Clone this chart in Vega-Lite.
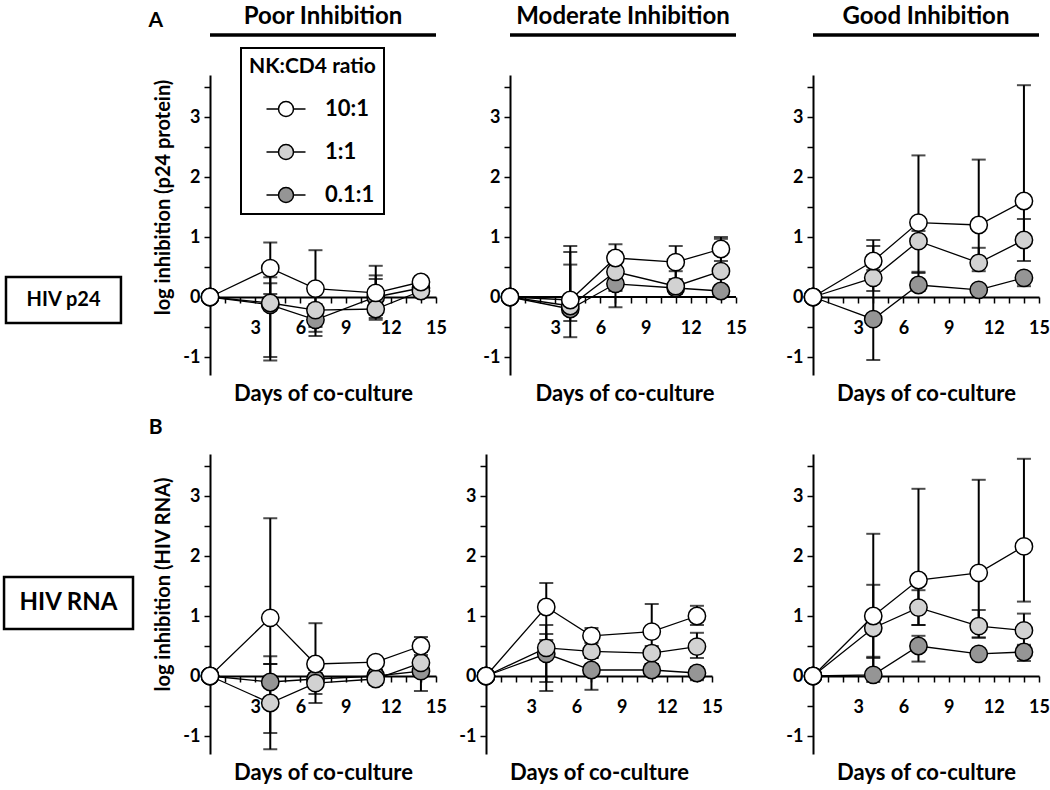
{
  "$schema": "https://vega.github.io/schema/vega-lite/v6.json",
  "background": "white",
  "padding": {"left": 2, "top": 5, "right": 5, "bottom": 5},
  "config": {
    "font": "Lato",
    "view": {"stroke": null},
    "axis": {"domainColor": "black", "domainWidth": 2, "tickColor": "black", "tickWidth": 1.5, "tickSize": 6, "labelFont": "Lato", "labelFontSize": 18, "labelFontWeight": "bold", "labelColor": "black", "titleFont": "Lato", "titleFontSize": 22, "titleFontWeight": "bold", "titleColor": "black", "grid": false, "labelPadding": 4},
    "legend": {"strokeWidth": 2}
  },
  "datasets": {
    "d": [
      {"r":"p24","c":"Poor","g":"0.1:1","day":0,"y":0,"lo":0,"hi":0},
      {"r":"p24","c":"Poor","g":"0.1:1","day":4,"y":-0.13,"lo":-1.06,"hi":0.23},
      {"r":"p24","c":"Poor","g":"0.1:1","day":7,"y":-0.38,"lo":-0.65,"hi":-0.12},
      {"r":"p24","c":"Poor","g":"0.1:1","day":11,"y":0.0,"lo":-0.3,"hi":0.3},
      {"r":"p24","c":"Poor","g":"0.1:1","day":14,"y":0.15,"lo":0.1,"hi":0.2},
      {"r":"p24","c":"Poor","g":"1:1","day":0,"y":0,"lo":0,"hi":0},
      {"r":"p24","c":"Poor","g":"1:1","day":4,"y":-0.1,"lo":-1.0,"hi":0.33},
      {"r":"p24","c":"Poor","g":"1:1","day":7,"y":-0.22,"lo":-0.58,"hi":0.1},
      {"r":"p24","c":"Poor","g":"1:1","day":11,"y":-0.2,"lo":-0.35,"hi":0.36},
      {"r":"p24","c":"Poor","g":"1:1","day":14,"y":0.1,"lo":0.05,"hi":0.15},
      {"r":"p24","c":"Poor","g":"10:1","day":0,"y":0,"lo":0,"hi":0},
      {"r":"p24","c":"Poor","g":"10:1","day":4,"y":0.48,"lo":0.05,"hi":0.91},
      {"r":"p24","c":"Poor","g":"10:1","day":7,"y":0.14,"lo":-0.5,"hi":0.78},
      {"r":"p24","c":"Poor","g":"10:1","day":11,"y":0.07,"lo":-0.38,"hi":0.52},
      {"r":"p24","c":"Poor","g":"10:1","day":14,"y":0.25,"lo":0.15,"hi":0.3},

      {"r":"p24","c":"Moderate","g":"0.1:1","day":0,"y":0,"lo":0,"hi":0},
      {"r":"p24","c":"Moderate","g":"0.1:1","day":4,"y":-0.2,"lo":-0.2,"hi":0.54},
      {"r":"p24","c":"Moderate","g":"0.1:1","day":7,"y":0.22,"lo":0.1,"hi":0.35},
      {"r":"p24","c":"Moderate","g":"0.1:1","day":11,"y":0.15,"lo":0.1,"hi":0.2},
      {"r":"p24","c":"Moderate","g":"0.1:1","day":14,"y":0.1,"lo":0.05,"hi":0.15},
      {"r":"p24","c":"Moderate","g":"1:1","day":0,"y":0,"lo":0,"hi":0},
      {"r":"p24","c":"Moderate","g":"1:1","day":4,"y":-0.15,"lo":-0.67,"hi":0.75},
      {"r":"p24","c":"Moderate","g":"1:1","day":7,"y":0.42,"lo":-0.17,"hi":0.75},
      {"r":"p24","c":"Moderate","g":"1:1","day":11,"y":0.18,"lo":0.05,"hi":0.43},
      {"r":"p24","c":"Moderate","g":"1:1","day":14,"y":0.43,"lo":0.1,"hi":0.97},
      {"r":"p24","c":"Moderate","g":"10:1","day":0,"y":0,"lo":0,"hi":0},
      {"r":"p24","c":"Moderate","g":"10:1","day":4,"y":-0.05,"lo":-0.4,"hi":0.85},
      {"r":"p24","c":"Moderate","g":"10:1","day":7,"y":0.65,"lo":0.42,"hi":0.88},
      {"r":"p24","c":"Moderate","g":"10:1","day":11,"y":0.58,"lo":0.3,"hi":0.85},
      {"r":"p24","c":"Moderate","g":"10:1","day":14,"y":0.8,"lo":0.6,"hi":1.0},

      {"r":"p24","c":"Good","g":"0.1:1","day":0,"y":0,"lo":0,"hi":0},
      {"r":"p24","c":"Good","g":"0.1:1","day":4,"y":-0.37,"lo":-1.05,"hi":0.45},
      {"r":"p24","c":"Good","g":"0.1:1","day":7,"y":0.2,"lo":0.1,"hi":0.42},
      {"r":"p24","c":"Good","g":"0.1:1","day":11,"y":0.12,"lo":0.05,"hi":0.2},
      {"r":"p24","c":"Good","g":"0.1:1","day":14,"y":0.32,"lo":0.18,"hi":0.4},
      {"r":"p24","c":"Good","g":"1:1","day":0,"y":0,"lo":0,"hi":0},
      {"r":"p24","c":"Good","g":"1:1","day":4,"y":0.32,"lo":0.1,"hi":0.85},
      {"r":"p24","c":"Good","g":"1:1","day":7,"y":0.93,"lo":0.4,"hi":1.1},
      {"r":"p24","c":"Good","g":"1:1","day":11,"y":0.57,"lo":0.43,"hi":0.82},
      {"r":"p24","c":"Good","g":"1:1","day":14,"y":0.95,"lo":0.6,"hi":1.3},
      {"r":"p24","c":"Good","g":"10:1","day":0,"y":0,"lo":0,"hi":0},
      {"r":"p24","c":"Good","g":"10:1","day":4,"y":0.6,"lo":0.25,"hi":0.95},
      {"r":"p24","c":"Good","g":"10:1","day":7,"y":1.24,"lo":0.9,"hi":2.36},
      {"r":"p24","c":"Good","g":"10:1","day":11,"y":1.2,"lo":0.57,"hi":2.29},
      {"r":"p24","c":"Good","g":"10:1","day":14,"y":1.6,"lo":0.95,"hi":3.53},

      {"r":"RNA","c":"Poor","g":"0.1:1","day":0,"y":0,"lo":0,"hi":0},
      {"r":"RNA","c":"Poor","g":"0.1:1","day":4,"y":-0.1,"lo":-0.95,"hi":0.2},
      {"r":"RNA","c":"Poor","g":"0.1:1","day":7,"y":-0.05,"lo":-0.2,"hi":0.05},
      {"r":"RNA","c":"Poor","g":"0.1:1","day":11,"y":0.0,"lo":-0.1,"hi":0.1},
      {"r":"RNA","c":"Poor","g":"0.1:1","day":14,"y":0.08,"lo":-0.25,"hi":0.15},
      {"r":"RNA","c":"Poor","g":"1:1","day":0,"y":0,"lo":0,"hi":0},
      {"r":"RNA","c":"Poor","g":"1:1","day":4,"y":-0.45,"lo":-1.22,"hi":0.33},
      {"r":"RNA","c":"Poor","g":"1:1","day":7,"y":-0.12,"lo":-0.45,"hi":0.1},
      {"r":"RNA","c":"Poor","g":"1:1","day":11,"y":-0.05,"lo":-0.15,"hi":0.05},
      {"r":"RNA","c":"Poor","g":"1:1","day":14,"y":0.22,"lo":0.0,"hi":0.4},
      {"r":"RNA","c":"Poor","g":"10:1","day":0,"y":0,"lo":0,"hi":0},
      {"r":"RNA","c":"Poor","g":"10:1","day":4,"y":0.97,"lo":0.2,"hi":2.63},
      {"r":"RNA","c":"Poor","g":"10:1","day":7,"y":0.2,"lo":-0.3,"hi":0.88},
      {"r":"RNA","c":"Poor","g":"10:1","day":11,"y":0.23,"lo":0.1,"hi":0.3},
      {"r":"RNA","c":"Poor","g":"10:1","day":14,"y":0.5,"lo":0.35,"hi":0.65},

      {"r":"RNA","c":"Moderate","g":"0.1:1","day":0,"y":0,"lo":0,"hi":0},
      {"r":"RNA","c":"Moderate","g":"0.1:1","day":4,"y":0.37,"lo":-0.25,"hi":0.7},
      {"r":"RNA","c":"Moderate","g":"0.1:1","day":7,"y":0.1,"lo":-0.23,"hi":0.3},
      {"r":"RNA","c":"Moderate","g":"0.1:1","day":11,"y":0.1,"lo":0.0,"hi":0.2},
      {"r":"RNA","c":"Moderate","g":"0.1:1","day":14,"y":0.05,"lo":-0.07,"hi":0.15},
      {"r":"RNA","c":"Moderate","g":"1:1","day":0,"y":0,"lo":0,"hi":0},
      {"r":"RNA","c":"Moderate","g":"1:1","day":4,"y":0.47,"lo":-0.1,"hi":0.85},
      {"r":"RNA","c":"Moderate","g":"1:1","day":7,"y":0.41,"lo":0.3,"hi":0.55},
      {"r":"RNA","c":"Moderate","g":"1:1","day":11,"y":0.38,"lo":0.2,"hi":0.5},
      {"r":"RNA","c":"Moderate","g":"1:1","day":14,"y":0.49,"lo":0.3,"hi":0.72},
      {"r":"RNA","c":"Moderate","g":"10:1","day":0,"y":0,"lo":0,"hi":0},
      {"r":"RNA","c":"Moderate","g":"10:1","day":4,"y":1.15,"lo":0.6,"hi":1.55},
      {"r":"RNA","c":"Moderate","g":"10:1","day":7,"y":0.67,"lo":0.5,"hi":0.8},
      {"r":"RNA","c":"Moderate","g":"10:1","day":11,"y":0.74,"lo":0.3,"hi":1.2},
      {"r":"RNA","c":"Moderate","g":"10:1","day":14,"y":1.0,"lo":0.85,"hi":1.17},

      {"r":"RNA","c":"Good","g":"0.1:1","day":0,"y":0,"lo":0,"hi":0},
      {"r":"RNA","c":"Good","g":"0.1:1","day":4,"y":0.02,"lo":-0.1,"hi":0.32},
      {"r":"RNA","c":"Good","g":"0.1:1","day":7,"y":0.5,"lo":0.24,"hi":0.67},
      {"r":"RNA","c":"Good","g":"0.1:1","day":11,"y":0.37,"lo":0.3,"hi":0.45},
      {"r":"RNA","c":"Good","g":"0.1:1","day":14,"y":0.4,"lo":0.25,"hi":0.52},
      {"r":"RNA","c":"Good","g":"1:1","day":0,"y":0,"lo":0,"hi":0},
      {"r":"RNA","c":"Good","g":"1:1","day":4,"y":0.8,"lo":0.1,"hi":1.52},
      {"r":"RNA","c":"Good","g":"1:1","day":7,"y":1.14,"lo":0.85,"hi":1.43},
      {"r":"RNA","c":"Good","g":"1:1","day":11,"y":0.83,"lo":0.64,"hi":1.1},
      {"r":"RNA","c":"Good","g":"1:1","day":14,"y":0.76,"lo":0.5,"hi":1.04},
      {"r":"RNA","c":"Good","g":"10:1","day":0,"y":0,"lo":0,"hi":0},
      {"r":"RNA","c":"Good","g":"10:1","day":4,"y":1.0,"lo":0.3,"hi":2.37},
      {"r":"RNA","c":"Good","g":"10:1","day":7,"y":1.6,"lo":0.85,"hi":3.12},
      {"r":"RNA","c":"Good","g":"10:1","day":11,"y":1.72,"lo":0.64,"hi":3.27},
      {"r":"RNA","c":"Good","g":"10:1","day":14,"y":2.16,"lo":1.24,"hi":3.62}
    ]
  },
  "columns": 3,
  "bounds": "flush",
  "spacing": {"row": 79, "column": 50},
  "resolve": {"scale": {"fill": "independent"}, "legend": {"fill": "independent"}},
  "concat": [
    {
      "width": 226, "height": 300,
      "data": {"name": "d"},
      "transform": [{"filter": "datum.r === 'p24' && datum.c === 'Poor'"}],
      "encoding": {
        "x": {"field": "day", "type": "quantitative", "scale": {"domain": [0, 15], "nice": false}, "axis": {"title": "Days of co-culture", "values": [1,2,3,4,5,6,7,8,9,10,11,12,13,14,15], "labelExpr": "datum.value % 3 === 0 ? datum.label : ''", "offset": -78, "labelFlush": false, "labelPadding": 16, "titlePadding": 46}},
        "y": {"field": "y", "type": "quantitative", "scale": {"domain": [-1.3, 3.7], "nice": false, "zero": false}, "axis": {"title": "log inhibition (p24 protein)", "titleFontSize": 20, "titlePadding": 9, "titleY": 122, "values": [-1,-0.5,0,0.5,1,1.5,2,2.5,3,3.5], "labelExpr": "datum.value % 1 === 0 ? '' + datum.value : ''"}}
      },
      "layer": [
        {"transform": [{"filter": "datum.day > 0"}], "mark": {"type": "rule", "color": "black", "strokeWidth": 2}, "encoding": {"y": {"field": "lo", "type": "quantitative"}, "y2": {"field": "hi"}}},
        {"transform": [{"filter": "datum.day > 0"}], "mark": {"type": "tick", "orient": "horizontal", "color": "black", "size": 14, "thickness": 2}, "encoding": {"y": {"field": "lo", "type": "quantitative"}}},
        {"transform": [{"filter": "datum.day > 0"}], "mark": {"type": "tick", "orient": "horizontal", "color": "black", "size": 14, "thickness": 2}, "encoding": {"y": {"field": "hi", "type": "quantitative"}}},
        {"mark": {"type": "line", "color": "black", "strokeWidth": 1.3}, "encoding": {"detail": {"field": "g"}}},
        {"mark": {"type": "point", "shape": "circle", "filled": true, "size": 300, "stroke": "black", "strokeWidth": 1.5, "opacity": 1},
         "encoding": {"fill": {"field": "g", "type": "nominal", "scale": {"domain": ["10:1", "1:1", "0.1:1"], "range": ["#ffffff", "#d2d2d2", "#959595"]},
           "legend": {"orient": "none", "legendX": 31, "legendY": -27, "title": "NK:CD4 ratio", "titleFont": "Lato", "titleFontSize": 21, "titleFontWeight": "bold", "titleColor": "black", "titlePadding": 21, "labelFont": "Lato", "labelFontSize": 22, "labelFontWeight": "bold", "labelColor": "black", "labelOffset": 28, "strokeColor": "black", "padding": 8, "symbolType": "M -2.6 0 L -1 0 M 1 0 L 2.6 0 M 1 0 A 1 1 0 1 1 -1 0 A 1 1 0 1 1 1 0 Z", "symbolSize": 225, "symbolStrokeColor": "black", "symbolStrokeWidth": 1.5, "symbolOffset": 26, "rowPadding": 21}}}},
        {"transform": [{"filter": "datum.day === 0 && datum.g === '10:1'"}], "mark": {"type": "text", "font": "Lato", "fontSize": 24, "fontWeight": "bold", "color": "black", "align": "center", "baseline": "alphabetic"}, "encoding": {"x": {"datum": 7.5, "type": "quantitative"}, "y": {"datum": 4.55, "type": "quantitative"}, "text": {"value": "Poor Inhibition"}}},
        {"transform": [{"filter": "datum.day === 0 && datum.g === '10:1'"}], "mark": {"type": "rule", "color": "black", "strokeWidth": 3.5}, "encoding": {"x": {"datum": 0, "type": "quantitative"}, "x2": {"datum": 15}, "y": {"datum": 4.367, "type": "quantitative"}}},
        {"transform": [{"filter": "datum.day === 0 && datum.g === '10:1'"}], "mark": {"type": "text", "font": "Lato", "fontSize": 21, "fontWeight": "bold", "color": "black", "align": "center", "baseline": "alphabetic"}, "encoding": {"x": {"datum": -3.6, "type": "quantitative"}, "y": {"datum": 4.5, "type": "quantitative"}, "text": {"value": "A"}}},
        {"transform": [{"filter": "datum.day === 0 && datum.g === '10:1'"}], "mark": {"type": "rect", "fill": "white", "stroke": "black", "strokeWidth": 2.5}, "encoding": {"x": {"datum": -13.54, "type": "quantitative"}, "x2": {"datum": -5.91}, "y": {"datum": 0.333, "type": "quantitative"}, "y2": {"datum": -0.433}}},
        {"transform": [{"filter": "datum.day === 0 && datum.g === '10:1'"}], "mark": {"type": "text", "font": "Lato", "fontSize": 20, "fontWeight": "bold", "color": "black", "align": "center", "baseline": "middle"}, "encoding": {"x": {"datum": -9.72, "type": "quantitative"}, "y": {"datum": -0.05, "type": "quantitative"}, "text": {"value": "HIV p24"}}}
      ]
    },
    {
      "width": 277, "height": 300,
      "data": {"name": "d"},
      "transform": [{"filter": "datum.r === 'p24' && datum.c === 'Moderate'"}],
      "encoding": {
        "x": {"field": "day", "type": "quantitative", "scale": {"domain": [-1.593, 16.792], "nice": false, "zero": false}, "axis": {"title": "Days of co-culture", "domain": false, "values": [1,2,3,4,5,6,7,8,9,10,11,12,13,14,15], "labelExpr": "datum.value % 3 === 0 ? datum.label : ''", "offset": -78, "labelFlush": false, "labelPadding": 16, "titlePadding": 46}},
        "y": {"field": "y", "type": "quantitative", "scale": {"domain": [-1.3, 3.7], "nice": false, "zero": false}, "axis": {"title": null, "offset": -24, "values": [-1,-0.5,0,0.5,1,1.5,2,2.5,3,3.5], "labelExpr": "datum.value % 1 === 0 ? '' + datum.value : ''"}}
      },
      "layer": [
        {"transform": [{"filter": "datum.day === 0 && datum.g === '10:1'"}], "mark": {"type": "rule", "color": "black", "strokeWidth": 2}, "encoding": {"x": {"datum": 0, "type": "quantitative"}, "x2": {"datum": 15}, "y": {"datum": 0, "type": "quantitative"}}},
        {"transform": [{"filter": "datum.day > 0"}], "mark": {"type": "rule", "color": "black", "strokeWidth": 2}, "encoding": {"y": {"field": "lo", "type": "quantitative"}, "y2": {"field": "hi"}}},
        {"transform": [{"filter": "datum.day > 0"}], "mark": {"type": "tick", "orient": "horizontal", "color": "black", "size": 14, "thickness": 2}, "encoding": {"y": {"field": "lo", "type": "quantitative"}}},
        {"transform": [{"filter": "datum.day > 0"}], "mark": {"type": "tick", "orient": "horizontal", "color": "black", "size": 14, "thickness": 2}, "encoding": {"y": {"field": "hi", "type": "quantitative"}}},
        {"mark": {"type": "line", "color": "black", "strokeWidth": 1.3}, "encoding": {"detail": {"field": "g"}}},
        {"mark": {"type": "point", "shape": "circle", "filled": true, "size": 300, "stroke": "black", "strokeWidth": 1.5, "opacity": 1},
         "encoding": {"fill": {"field": "g", "type": "nominal", "scale": {"domain": ["10:1", "1:1", "0.1:1"], "range": ["#ffffff", "#d2d2d2", "#959595"]}, "legend": null}}},
        {"transform": [{"filter": "datum.day === 0 && datum.g === '10:1'"}], "mark": {"type": "text", "font": "Lato", "fontSize": 24, "fontWeight": "bold", "color": "black", "align": "center", "baseline": "alphabetic"}, "encoding": {"x": {"datum": 7.5, "type": "quantitative"}, "y": {"datum": 4.55, "type": "quantitative"}, "text": {"value": "Moderate Inhibition"}}},
        {"transform": [{"filter": "datum.day === 0 && datum.g === '10:1'"}], "mark": {"type": "rule", "color": "black", "strokeWidth": 3.5}, "encoding": {"x": {"datum": 0, "type": "quantitative"}, "x2": {"datum": 15}, "y": {"datum": 4.367, "type": "quantitative"}}}
      ]
    },
    {
      "width": 226, "height": 300,
      "data": {"name": "d"},
      "transform": [{"filter": "datum.r === 'p24' && datum.c === 'Good'"}],
      "encoding": {
        "x": {"field": "day", "type": "quantitative", "scale": {"domain": [0, 15], "nice": false}, "axis": {"title": "Days of co-culture", "values": [1,2,3,4,5,6,7,8,9,10,11,12,13,14,15], "labelExpr": "datum.value % 3 === 0 ? datum.label : ''", "offset": -78, "labelFlush": false, "labelPadding": 16, "titlePadding": 46}},
        "y": {"field": "y", "type": "quantitative", "scale": {"domain": [-1.3, 3.7], "nice": false, "zero": false}, "axis": {"title": null, "values": [-1,-0.5,0,0.5,1,1.5,2,2.5,3,3.5], "labelExpr": "datum.value % 1 === 0 ? '' + datum.value : ''"}}
      },
      "layer": [
        {"transform": [{"filter": "datum.day > 0"}], "mark": {"type": "rule", "color": "black", "strokeWidth": 2}, "encoding": {"y": {"field": "lo", "type": "quantitative"}, "y2": {"field": "hi"}}},
        {"transform": [{"filter": "datum.day > 0"}], "mark": {"type": "tick", "orient": "horizontal", "color": "black", "size": 14, "thickness": 2}, "encoding": {"y": {"field": "lo", "type": "quantitative"}}},
        {"transform": [{"filter": "datum.day > 0"}], "mark": {"type": "tick", "orient": "horizontal", "color": "black", "size": 14, "thickness": 2}, "encoding": {"y": {"field": "hi", "type": "quantitative"}}},
        {"mark": {"type": "line", "color": "black", "strokeWidth": 1.3}, "encoding": {"detail": {"field": "g"}}},
        {"mark": {"type": "point", "shape": "circle", "filled": true, "size": 300, "stroke": "black", "strokeWidth": 1.5, "opacity": 1},
         "encoding": {"fill": {"field": "g", "type": "nominal", "scale": {"domain": ["10:1", "1:1", "0.1:1"], "range": ["#ffffff", "#d2d2d2", "#959595"]}, "legend": null}}},
        {"transform": [{"filter": "datum.day === 0 && datum.g === '10:1'"}], "mark": {"type": "text", "font": "Lato", "fontSize": 24, "fontWeight": "bold", "color": "black", "align": "center", "baseline": "alphabetic"}, "encoding": {"x": {"datum": 7.5, "type": "quantitative"}, "y": {"datum": 4.55, "type": "quantitative"}, "text": {"value": "Good Inhibition"}}},
        {"transform": [{"filter": "datum.day === 0 && datum.g === '10:1'"}], "mark": {"type": "rule", "color": "black", "strokeWidth": 3.5}, "encoding": {"x": {"datum": 0, "type": "quantitative"}, "x2": {"datum": 15}, "y": {"datum": 4.367, "type": "quantitative"}}}
      ]
    },
    {
      "width": 226, "height": 300,
      "data": {"name": "d"},
      "transform": [{"filter": "datum.r === 'RNA' && datum.c === 'Poor'"}],
      "encoding": {
        "x": {"field": "day", "type": "quantitative", "scale": {"domain": [0, 15], "nice": false}, "axis": {"title": "Days of co-culture", "values": [1,2,3,4,5,6,7,8,9,10,11,12,13,14,15], "labelExpr": "datum.value % 3 === 0 ? datum.label : ''", "offset": -78, "labelFlush": false, "labelPadding": 16, "titlePadding": 46}},
        "y": {"field": "y", "type": "quantitative", "scale": {"domain": [-1.3, 3.7], "nice": false, "zero": false}, "axis": {"title": "log inhibition (HIV RNA)", "titleFontSize": 20, "titlePadding": 9, "titleY": 130, "values": [-1,-0.5,0,0.5,1,1.5,2,2.5,3,3.5], "labelExpr": "datum.value % 1 === 0 ? '' + datum.value : ''"}}
      },
      "layer": [
        {"transform": [{"filter": "datum.day > 0"}], "mark": {"type": "rule", "color": "black", "strokeWidth": 2}, "encoding": {"y": {"field": "lo", "type": "quantitative"}, "y2": {"field": "hi"}}},
        {"transform": [{"filter": "datum.day > 0"}], "mark": {"type": "tick", "orient": "horizontal", "color": "black", "size": 14, "thickness": 2}, "encoding": {"y": {"field": "lo", "type": "quantitative"}}},
        {"transform": [{"filter": "datum.day > 0"}], "mark": {"type": "tick", "orient": "horizontal", "color": "black", "size": 14, "thickness": 2}, "encoding": {"y": {"field": "hi", "type": "quantitative"}}},
        {"mark": {"type": "line", "color": "black", "strokeWidth": 1.3}, "encoding": {"detail": {"field": "g"}}},
        {"mark": {"type": "point", "shape": "circle", "filled": true, "size": 300, "stroke": "black", "strokeWidth": 1.5, "opacity": 1},
         "encoding": {"fill": {"field": "g", "type": "nominal", "scale": {"domain": ["10:1", "1:1", "0.1:1"], "range": ["#ffffff", "#d2d2d2", "#959595"]}, "legend": null}}},
        {"transform": [{"filter": "datum.day === 0 && datum.g === '10:1'"}], "mark": {"type": "text", "font": "Lato", "fontSize": 21, "fontWeight": "bold", "color": "black", "align": "center", "baseline": "alphabetic"}, "encoding": {"x": {"datum": -3.6, "type": "quantitative"}, "y": {"datum": 4.033, "type": "quantitative"}, "text": {"value": "B"}}},
        {"transform": [{"filter": "datum.day === 0 && datum.g === '10:1'"}], "mark": {"type": "rect", "fill": "white", "stroke": "black", "strokeWidth": 2.5}, "encoding": {"x": {"datum": -13.67, "type": "quantitative"}, "x2": {"datum": -5.11}, "y": {"datum": 1.65, "type": "quantitative"}, "y2": {"datum": 0.783}}},
        {"transform": [{"filter": "datum.day === 0 && datum.g === '10:1'"}], "mark": {"type": "text", "font": "Lato", "fontSize": 24, "fontWeight": "bold", "color": "black", "align": "center", "baseline": "middle"}, "encoding": {"x": {"datum": -9.39, "type": "quantitative"}, "y": {"datum": 1.217, "type": "quantitative"}, "text": {"value": "HIV RNA"}}}
      ]
    },
    {
      "width": 226, "height": 300,
      "data": {"name": "d"},
      "transform": [{"filter": "datum.r === 'RNA' && datum.c === 'Moderate'"}],
      "encoding": {
        "x": {"field": "day", "type": "quantitative", "scale": {"domain": [0, 15], "nice": false}, "axis": {"title": "Days of co-culture", "values": [1,2,3,4,5,6,7,8,9,10,11,12,13,14,15], "labelExpr": "datum.value % 3 === 0 ? datum.label : ''", "offset": -78, "labelFlush": false, "labelPadding": 16, "titlePadding": 46}},
        "y": {"field": "y", "type": "quantitative", "scale": {"domain": [-1.3, 3.7], "nice": false, "zero": false}, "axis": {"title": null, "values": [-1,-0.5,0,0.5,1,1.5,2,2.5,3,3.5], "labelExpr": "datum.value % 1 === 0 ? '' + datum.value : ''"}}
      },
      "layer": [
        {"transform": [{"filter": "datum.day > 0"}], "mark": {"type": "rule", "color": "black", "strokeWidth": 2}, "encoding": {"y": {"field": "lo", "type": "quantitative"}, "y2": {"field": "hi"}}},
        {"transform": [{"filter": "datum.day > 0"}], "mark": {"type": "tick", "orient": "horizontal", "color": "black", "size": 14, "thickness": 2}, "encoding": {"y": {"field": "lo", "type": "quantitative"}}},
        {"transform": [{"filter": "datum.day > 0"}], "mark": {"type": "tick", "orient": "horizontal", "color": "black", "size": 14, "thickness": 2}, "encoding": {"y": {"field": "hi", "type": "quantitative"}}},
        {"mark": {"type": "line", "color": "black", "strokeWidth": 1.3}, "encoding": {"detail": {"field": "g"}}},
        {"mark": {"type": "point", "shape": "circle", "filled": true, "size": 300, "stroke": "black", "strokeWidth": 1.5, "opacity": 1},
         "encoding": {"fill": {"field": "g", "type": "nominal", "scale": {"domain": ["10:1", "1:1", "0.1:1"], "range": ["#ffffff", "#d2d2d2", "#959595"]}, "legend": null}}}
      ]
    },
    {
      "width": 226, "height": 300,
      "data": {"name": "d"},
      "transform": [{"filter": "datum.r === 'RNA' && datum.c === 'Good'"}],
      "encoding": {
        "x": {"field": "day", "type": "quantitative", "scale": {"domain": [0, 15], "nice": false}, "axis": {"title": "Days of co-culture", "values": [1,2,3,4,5,6,7,8,9,10,11,12,13,14,15], "labelExpr": "datum.value % 3 === 0 ? datum.label : ''", "offset": -78, "labelFlush": false, "labelPadding": 16, "titlePadding": 46}},
        "y": {"field": "y", "type": "quantitative", "scale": {"domain": [-1.3, 3.7], "nice": false, "zero": false}, "axis": {"title": null, "values": [-1,-0.5,0,0.5,1,1.5,2,2.5,3,3.5], "labelExpr": "datum.value % 1 === 0 ? '' + datum.value : ''"}}
      },
      "layer": [
        {"transform": [{"filter": "datum.day > 0"}], "mark": {"type": "rule", "color": "black", "strokeWidth": 2}, "encoding": {"y": {"field": "lo", "type": "quantitative"}, "y2": {"field": "hi"}}},
        {"transform": [{"filter": "datum.day > 0"}], "mark": {"type": "tick", "orient": "horizontal", "color": "black", "size": 14, "thickness": 2}, "encoding": {"y": {"field": "lo", "type": "quantitative"}}},
        {"transform": [{"filter": "datum.day > 0"}], "mark": {"type": "tick", "orient": "horizontal", "color": "black", "size": 14, "thickness": 2}, "encoding": {"y": {"field": "hi", "type": "quantitative"}}},
        {"mark": {"type": "line", "color": "black", "strokeWidth": 1.3}, "encoding": {"detail": {"field": "g"}}},
        {"mark": {"type": "point", "shape": "circle", "filled": true, "size": 300, "stroke": "black", "strokeWidth": 1.5, "opacity": 1},
         "encoding": {"fill": {"field": "g", "type": "nominal", "scale": {"domain": ["10:1", "1:1", "0.1:1"], "range": ["#ffffff", "#d2d2d2", "#959595"]}, "legend": null}}}
      ]
    }
  ]
}
